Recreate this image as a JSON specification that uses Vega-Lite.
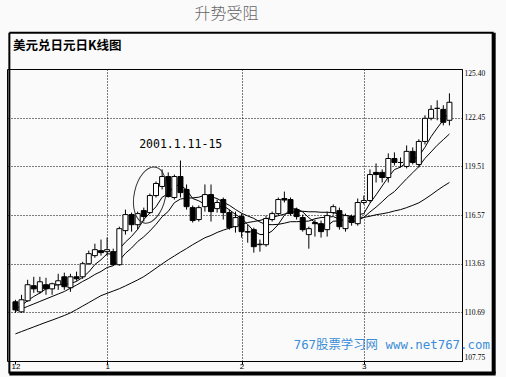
{
  "$schema": "https://vega.github.io/schema/vega-lite/v6.json",
  "width": 455,
  "height": 292,
  "autosize": "none",
  "padding": {"left": 7, "top": 69, "right": 44, "bottom": 16},
  "background": "#fafafa",
  "title": {"text": "升势受阻", "anchor": "middle", "dx": -8, "offset": 9, "fontSize": 16, "font": "Noto Sans CJK SC", "fontWeight": 300, "color": "#666"},
  "config": {"view": {"stroke": "#000", "strokeWidth": 1, "fill": "#fafafa"}},
  "datasets": {
    "k": [
      {"i":1,"o":111.33,"h":111.45,"l":110.66,"c":110.84,"m5":110.90,"m10":110.75,"m30":109.39},
      {"i":2,"o":110.72,"h":111.75,"l":110.66,"c":111.45,"m5":111.10,"m10":110.90,"m30":109.53},
      {"i":3,"o":111.39,"h":112.66,"l":111.33,"c":112.36,"m5":111.40,"m10":111.05,"m30":109.67},
      {"i":4,"o":112.30,"h":112.84,"l":111.87,"c":112.11,"m5":111.65,"m10":111.20,"m30":109.81},
      {"i":5,"o":111.93,"h":112.84,"l":111.81,"c":112.54,"m5":111.86,"m10":111.35,"m30":109.95},
      {"i":6,"o":112.36,"h":112.78,"l":111.75,"c":112.11,"m5":112.11,"m10":111.50,"m30":110.09},
      {"i":7,"o":112.11,"h":112.48,"l":111.75,"c":112.42,"m5":112.31,"m10":111.65,"m30":110.22},
      {"i":8,"o":112.36,"h":113.02,"l":112.05,"c":112.60,"m5":112.36,"m10":111.80,"m30":110.36},
      {"i":9,"o":112.84,"h":113.09,"l":112.05,"c":112.24,"m5":112.38,"m10":111.95,"m30":110.50},
      {"i":10,"o":112.18,"h":113.02,"l":111.93,"c":112.84,"m5":112.44,"m10":112.15,"m30":110.66},
      {"i":11,"o":112.84,"h":113.15,"l":112.60,"c":112.72,"m5":112.56,"m10":112.34,"m30":110.86},
      {"i":12,"o":112.84,"h":113.75,"l":112.72,"c":113.63,"m5":112.81,"m10":112.56,"m30":111.07},
      {"i":13,"o":113.63,"h":114.42,"l":113.57,"c":114.24,"m5":113.13,"m10":112.75,"m30":111.28},
      {"i":14,"o":114.12,"h":114.84,"l":113.99,"c":114.48,"m5":113.58,"m10":112.98,"m30":111.49},
      {"i":15,"o":114.42,"h":115.09,"l":114.12,"c":114.30,"m5":113.87,"m10":113.16,"m30":111.70},
      {"i":16,"o":114.36,"h":115.21,"l":114.12,"c":114.48,"m5":114.23,"m10":113.40,"m30":111.84},
      {"i":17,"o":114.36,"h":114.54,"l":113.51,"c":113.57,"m5":114.21,"m10":113.51,"m30":111.98},
      {"i":18,"o":113.57,"h":115.87,"l":113.51,"c":115.75,"m5":114.52,"m10":113.83,"m30":112.12},
      {"i":19,"o":115.63,"h":116.90,"l":115.39,"c":116.60,"m5":114.94,"m10":114.26,"m30":112.29},
      {"i":20,"o":116.60,"h":116.72,"l":115.57,"c":115.99,"m5":115.28,"m10":114.58,"m30":112.47},
      {"i":21,"o":115.99,"h":116.78,"l":115.69,"c":116.66,"m5":115.71,"m10":114.97,"m30":112.65},
      {"i":22,"o":116.84,"h":117.02,"l":116.18,"c":116.48,"m5":116.30,"m10":115.26,"m30":112.85},
      {"i":23,"o":116.72,"h":117.87,"l":116.66,"c":117.75,"m5":116.70,"m10":115.61,"m30":113.10},
      {"i":24,"o":117.75,"h":118.60,"l":117.63,"c":118.48,"m5":117.07,"m10":116.01,"m30":113.36},
      {"i":25,"o":118.30,"h":119.33,"l":118.12,"c":118.90,"m5":117.65,"m10":116.47,"m30":113.62},
      {"i":26,"o":118.90,"h":119.15,"l":117.63,"c":117.69,"m5":117.86,"m10":116.79,"m30":113.87},
      {"i":27,"o":117.63,"h":119.02,"l":117.51,"c":118.90,"m5":118.34,"m10":117.32,"m30":114.10},
      {"i":28,"o":118.90,"h":119.87,"l":117.63,"c":117.93,"m5":118.38,"m10":117.54,"m30":114.33},
      {"i":29,"o":118.12,"h":118.42,"l":116.90,"c":117.08,"m5":118.10,"m10":117.59,"m30":114.55},
      {"i":30,"o":117.02,"h":117.15,"l":116.12,"c":116.24,"m5":117.57,"m10":117.61,"m30":114.78},
      {"i":31,"o":116.30,"h":117.15,"l":116.18,"c":117.02,"m5":117.43,"m10":117.65,"m30":114.99},
      {"i":32,"o":117.08,"h":118.42,"l":116.78,"c":117.81,"m5":117.22,"m10":117.78,"m30":115.20},
      {"i":33,"o":117.81,"h":118.42,"l":116.18,"c":116.78,"m5":116.99,"m10":117.68,"m30":115.34},
      {"i":34,"o":116.96,"h":117.51,"l":116.72,"c":117.33,"m5":117.04,"m10":117.57,"m30":115.52},
      {"i":35,"o":117.51,"h":117.63,"l":116.30,"c":116.72,"m5":117.13,"m10":117.35,"m30":115.66},
      {"i":36,"o":116.72,"h":116.90,"l":115.69,"c":115.81,"m5":116.89,"m10":117.16,"m30":115.78},
      {"i":37,"o":115.87,"h":116.78,"l":115.51,"c":116.42,"m5":116.61,"m10":116.91,"m30":115.91},
      {"i":38,"o":116.48,"h":116.66,"l":115.21,"c":115.57,"m5":116.37,"m10":116.68,"m30":116.01},
      {"i":39,"o":115.57,"h":115.99,"l":114.90,"c":115.54,"m5":116.01,"m10":116.52,"m30":116.12},
      {"i":40,"o":115.69,"h":115.81,"l":114.30,"c":114.66,"m5":115.60,"m10":116.37,"m30":116.18},
      {"i":41,"o":114.78,"h":115.09,"l":114.36,"c":114.81,"m5":115.40,"m10":116.15,"m30":116.25},
      {"i":42,"o":114.78,"h":116.54,"l":114.66,"c":116.36,"m5":115.39,"m10":116.00,"m30":116.35},
      {"i":43,"o":116.30,"h":116.78,"l":116.18,"c":116.66,"m5":115.61,"m10":115.99,"m30":116.43},
      {"i":44,"o":116.66,"h":117.63,"l":116.54,"c":117.51,"m5":116.00,"m10":116.01,"m30":116.53},
      {"i":45,"o":117.57,"h":117.99,"l":117.33,"c":117.48,"m5":116.56,"m10":116.08,"m30":116.63},
      {"i":46,"o":117.51,"h":117.63,"l":116.54,"c":116.66,"m5":116.93,"m10":116.17,"m30":116.71},
      {"i":47,"o":116.90,"h":117.02,"l":116.30,"c":116.48,"m5":116.96,"m10":116.17,"m30":116.80},
      {"i":48,"o":116.42,"h":116.60,"l":115.57,"c":115.69,"m5":116.76,"m10":116.19,"m30":116.80},
      {"i":49,"o":115.39,"h":115.87,"l":114.54,"c":115.75,"m5":116.41,"m10":116.21,"m30":116.77},
      {"i":50,"o":116.12,"h":116.30,"l":115.27,"c":116.05,"m5":116.13,"m10":116.35,"m30":116.77},
      {"i":51,"o":116.05,"h":116.24,"l":115.21,"c":115.57,"m5":115.91,"m10":116.42,"m30":116.74},
      {"i":52,"o":115.69,"h":116.78,"l":115.27,"c":116.54,"m5":115.92,"m10":116.44,"m30":116.74},
      {"i":53,"o":116.72,"h":117.21,"l":116.60,"c":117.08,"m5":116.20,"m10":116.48,"m30":116.72},
      {"i":54,"o":116.84,"h":117.02,"l":115.69,"c":115.87,"m5":116.22,"m10":116.32,"m30":116.63},
      {"i":55,"o":115.75,"h":116.66,"l":115.57,"c":116.54,"m5":116.32,"m10":116.22,"m30":116.55},
      {"i":56,"o":116.48,"h":116.60,"l":115.93,"c":116.12,"m5":116.43,"m10":116.17,"m30":116.50},
      {"i":57,"o":116.05,"h":117.57,"l":115.93,"c":117.33,"m5":116.59,"m10":116.25,"m30":116.45},
      {"i":58,"o":117.33,"h":117.75,"l":117.21,"c":117.45,"m5":116.66,"m10":116.43,"m30":116.43},
      {"i":59,"o":117.45,"h":119.33,"l":117.33,"c":119.02,"m5":117.29,"m10":116.76,"m30":116.50},
      {"i":60,"o":119.15,"h":119.69,"l":118.54,"c":119.02,"m5":117.79,"m10":117.05,"m30":116.59},
      {"i":61,"o":119.15,"h":119.33,"l":118.54,"c":118.84,"m5":118.33,"m10":117.38,"m30":116.65},
      {"i":62,"o":118.84,"h":120.30,"l":118.54,"c":119.99,"m5":118.86,"m10":117.73,"m30":116.72},
      {"i":63,"o":119.99,"h":120.36,"l":119.57,"c":119.75,"m5":119.32,"m10":117.99,"m30":116.82},
      {"i":64,"o":119.75,"h":120.05,"l":119.45,"c":119.75,"m5":119.47,"m10":118.38,"m30":116.90},
      {"i":65,"o":119.51,"h":120.78,"l":119.39,"c":120.42,"m5":119.75,"m10":118.77,"m30":117.02},
      {"i":66,"o":120.42,"h":120.66,"l":119.63,"c":119.75,"m5":119.93,"m10":119.13,"m30":117.16},
      {"i":67,"o":119.63,"h":121.15,"l":119.45,"c":121.02,"m5":120.14,"m10":119.50,"m30":117.31},
      {"i":68,"o":121.02,"h":122.60,"l":120.84,"c":122.42,"m5":120.67,"m10":120.00,"m30":117.54},
      {"i":69,"o":122.42,"h":123.21,"l":122.30,"c":122.96,"m5":121.31,"m10":120.39,"m30":117.79},
      {"i":70,"o":123.02,"h":123.51,"l":122.30,"c":123.02,"m5":121.83,"m10":120.79,"m30":118.06},
      {"i":71,"o":122.96,"h":123.21,"l":121.99,"c":122.18,"m5":122.32,"m10":121.13,"m30":118.31},
      {"i":72,"o":122.30,"h":123.93,"l":121.99,"c":123.39,"m5":122.79,"m10":121.47,"m30":118.54}
    ],
    "notes": [
      {"kind": "ellipse", "i": 23.0, "p": 117.78, "t": ""},
      {"kind": "date", "i": 21.24, "p": 120.81, "t": "2001.1.11-15"},
      {"kind": "head", "i": 0.6, "p": 126.82, "t": "美元兑日元日K线图"},
      {"kind": "site", "i": 46.52, "p": 108.72, "t": "767股票学习网 www.net767.com"}
    ],
    "frame": [
      {"side": "left", "i": 0.008, "i2": 0.008, "p": 127.59, "p2": 107.0},
      {"side": "top", "i": 0.008, "i2": 79.24, "p": 127.59, "p2": 127.59},
      {"side": "right", "i": 79.24, "i2": 79.24, "p": 127.59, "p2": 107.0},
      {"side": "bottom", "i": 0.008, "i2": 79.56, "p": 107.0, "p2": 107.0}
    ]
  },
  "data": {"name": "k"},
  "encoding": {
    "x": {
      "field": "i", "type": "quantitative",
      "scale": {"domain": [0.44, 73.24], "nice": false, "zero": false},
      "axis": {
        "values": [1, 16, 38, 58],
        "labelExpr": "datum.value == 1 ? '12' : datum.value == 16 ? '1' : datum.value == 38 ? '2' : '3'",
        "title": null, "domain": false,
        "grid": true, "gridDash": [1, 2], "gridColor": "#000", "gridWidth": 1,
        "gridOpacity": {"condition": {"test": "datum.value == 1", "value": 0}, "value": 1},
        "ticks": true, "tickSize": 3, "tickColor": "#000",
        "labelFont": "Liberation Sans", "labelFontSize": 8, "labelColor": "#000",
        "labelPadding": -2, "labelFlush": 5
      }
    }
  },
  "layer": [
    {
      "mark": {"type": "line", "stroke": "#000", "strokeWidth": 1},
      "encoding": {
        "y": {
          "field": "m30", "type": "quantitative",
          "scale": {"domain": [107.75, 125.40], "nice": false, "zero": false},
          "axis": {
            "orient": "right", "title": null, "domain": false,
            "values": [107.75, 110.69, 113.63, 116.57, 119.51, 122.45, 125.40],
            "format": ".2f", "grid": true, "gridDash": [1, 2], "gridColor": "#000",
            "ticks": false, "labelPadding": 2, "labelFont": "Liberation Serif",
            "labelFontSize": 7.5, "labelColor": "#000", "labelFlush": true
          }
        }
      }
    },
    {"mark": {"type": "line", "stroke": "#000", "strokeWidth": 1}, "encoding": {"y": {"field": "m10", "type": "quantitative"}}},
    {"mark": {"type": "line", "stroke": "#000", "strokeWidth": 1}, "encoding": {"y": {"field": "m5", "type": "quantitative"}}},
    {"mark": {"type": "rule", "stroke": "#000", "strokeWidth": 1}, "encoding": {"y": {"field": "h", "type": "quantitative"}, "y2": {"field": "l"}}},
    {
      "mark": {"type": "bar", "width": 5, "stroke": "#000", "strokeWidth": 1},
      "encoding": {
        "y": {"field": "o", "type": "quantitative"}, "y2": {"field": "c"},
        "fill": {"condition": {"test": "datum.c < datum.o", "value": "#000"}, "value": "#fff"}
      }
    },
    {
      "data": {"name": "notes"},
      "transform": [{"filter": "datum.kind == 'ellipse'"}],
      "mark": {"type": "point", "shape": "M -0.55 0 A 0.55 1 0 1 1 0.55 0 A 0.55 1 0 1 1 -0.55 0 Z", "size": 3249, "filled": false, "stroke": "#333", "strokeWidth": 1, "angle": 12, "opacity": 1},
      "encoding": {"x": {"field": "i", "type": "quantitative"}, "y": {"field": "p", "type": "quantitative"}}
    },
    {
      "data": {"name": "notes"},
      "transform": [{"filter": "datum.kind == 'date'"}],
      "mark": {"type": "text", "align": "left", "baseline": "middle", "font": "DejaVu Sans Mono", "fontSize": 11.5, "color": "#000"},
      "encoding": {"x": {"field": "i", "type": "quantitative"}, "y": {"field": "p", "type": "quantitative"}, "text": {"field": "t"}}
    },
    {
      "data": {"name": "notes"},
      "transform": [{"filter": "datum.kind == 'head'"}],
      "mark": {"type": "text", "align": "left", "baseline": "middle", "font": "Noto Sans CJK SC", "fontWeight": "bold", "fontSize": 12.5, "color": "#000"},
      "encoding": {"x": {"field": "i", "type": "quantitative"}, "y": {"field": "p", "type": "quantitative"}, "text": {"field": "t"}}
    },
    {
      "data": {"name": "notes"},
      "transform": [{"filter": "datum.kind == 'site'"}],
      "mark": {"type": "text", "align": "left", "baseline": "middle", "font": "DejaVu Sans Mono, Noto Sans CJK SC", "fontSize": 12.4, "color": "#3b8ed8"},
      "encoding": {"x": {"field": "i", "type": "quantitative"}, "y": {"field": "p", "type": "quantitative"}, "text": {"field": "t"}}
    },
    {
      "data": {"name": "frame"},
      "transform": [{"filter": "datum.side == 'left' || datum.side == 'top'"}],
      "mark": {"type": "rule", "stroke": "#000", "strokeWidth": 2},
      "encoding": {"x": {"field": "i", "type": "quantitative"}, "x2": {"field": "i2"}, "y": {"field": "p", "type": "quantitative"}, "y2": {"field": "p2"}}
    },
    {
      "data": {"name": "frame"},
      "transform": [{"filter": "datum.side == 'right'"}],
      "mark": {"type": "rule", "stroke": "#000", "strokeWidth": 4},
      "encoding": {"x": {"field": "i", "type": "quantitative"}, "x2": {"field": "i2"}, "y": {"field": "p", "type": "quantitative"}, "y2": {"field": "p2"}}
    },
    {
      "data": {"name": "frame"},
      "transform": [{"filter": "datum.side == 'bottom'"}],
      "mark": {"type": "rule", "stroke": "#000", "strokeWidth": 4},
      "encoding": {"x": {"field": "i", "type": "quantitative"}, "x2": {"field": "i2"}, "y": {"field": "p", "type": "quantitative"}, "y2": {"field": "p2"}}
    }
  ]
}
